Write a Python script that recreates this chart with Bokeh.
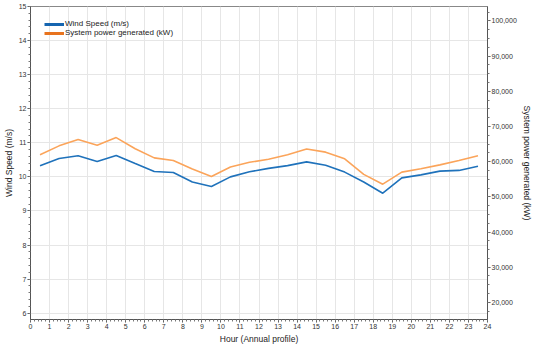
from bokeh.plotting import figure
from bokeh.models import Range1d, LinearAxis, Legend, LegendItem, NumeralTickFormatter, FixedTicker, ColumnDataSource
from bokeh.embed import file_html
from bokeh.resources import INLINE

hours = [0.5, 1.5, 2.5, 3.5, 4.5, 5.5, 6.5, 7.5, 8.5, 9.5, 10.5, 11.5,
         12.5, 13.5, 14.5, 15.5, 16.5, 17.5, 18.5, 19.5, 20.5, 21.5, 22.5, 23.5]
wind_speed = [10.33, 10.54, 10.62, 10.45, 10.63, 10.39, 10.16, 10.13, 9.85, 9.72, 10.00, 10.15,
              10.25, 10.33, 10.44, 10.34, 10.14, 9.85, 9.52, 9.97, 10.06, 10.17, 10.19, 10.31]
power_kw = [61970, 64490, 66300, 64680, 66840, 63680, 61080, 60350, 57900, 55760, 58460, 59810,
            60700, 61970, 63600, 62700, 60810, 56380, 53600, 57030, 58000, 59080, 60350, 61700]
x_ticks = list(range(0, 25))
left_ticks = [6, 7, 8, 9, 10, 11, 12, 13, 14, 15]
right_ticks = [20000, 30000, 40000, 50000, 60000, 70000, 80000, 90000, 100000]

FONT = "Liberation Sans"
BLUE = "#1f72bb"
ORANGE = "#fba45a"

p = figure(width=534, height=346, output_backend="svg", toolbar_location=None,
           x_range=Range1d(0, 24), y_range=Range1d(5.815, 15.0),
           min_border_left=0, min_border_right=0, min_border_top=6, min_border_bottom=0)
p.extra_y_ranges = {"power": Range1d(15135, 104100)}

src = ColumnDataSource(dict(h=hours, w=wind_speed, pw=power_kw))
p.line("h", "w", source=src, line_color=BLUE, line_width=1.6)
p.line("h", "pw", source=src, line_color=ORANGE, line_width=1.6, y_range_name="power")

# legend-only renderers (nothing drawn in the plot)
nan_src = ColumnDataSource(dict(x=[float("nan")], y=[float("nan")]))
leg_w = p.line("x", "y", source=nan_src, line_color="#1565b0", line_width=3)
leg_p = p.line("x", "y", source=nan_src, line_color="#e8731e", line_width=3)
legend = Legend(items=[LegendItem(label="Wind Speed (m/s)", renderers=[leg_w]),
                       LegendItem(label="System power generated (kW)", renderers=[leg_p])],
                location=(14, 282), margin=0, padding=0, spacing=0,
                glyph_width=20, glyph_height=8, label_height=8, label_standoff=1,
                label_text_font=FONT, label_text_font_size="8px", label_text_color="#222222",
                background_fill_alpha=0, border_line_alpha=0)
p.add_layout(legend)

right_axis = LinearAxis(y_range_name="power", axis_label="System power generated (kW)")
p.add_layout(right_axis, "right")

p.xaxis.axis_label = "Hour (Annual profile)"
p.yaxis[0].axis_label = "Wind Speed (m/s)"

p.xaxis.ticker = FixedTicker(ticks=x_ticks, minor_ticks=[i / 5 for i in range(0, 121)])
p.yaxis[0].ticker = FixedTicker(ticks=left_ticks, minor_ticks=[5.8 + i * 0.2 for i in range(0, 47)])
right_axis.ticker = FixedTicker(ticks=right_ticks, minor_ticks=[15000 + i * 2500 for i in range(0, 37)])
right_axis.formatter = NumeralTickFormatter(format="0,0")

for ax in p.xaxis + p.yaxis:
    ax.axis_label_text_font = FONT
    ax.axis_label_text_font_size = "8.5px"
    ax.axis_label_text_font_style = "normal"
    ax.axis_label_text_color = "#222222"
    ax.major_label_text_font = FONT
    ax.major_label_text_font_size = "7px"
    ax.major_label_text_color = "#333333"
    ax.axis_line_color = "#555555"
    ax.major_tick_line_color = "#555555"
    ax.minor_tick_line_color = "#777777"
    ax.major_tick_out = 3
    ax.major_tick_in = 0
    ax.minor_tick_out = 2
    ax.minor_tick_in = 0
    ax.major_label_standoff = 1
    ax.axis_label_standoff = 2

p.xgrid.ticker = FixedTicker(ticks=x_ticks)
p.ygrid.ticker = FixedTicker(ticks=left_ticks)
p.grid.grid_line_color = "#e6e6e6"
p.grid.grid_line_width = 1
p.outline_line_color = "#888888"
p.background_fill_color = "white"

open("out.html", "w").write(file_html(p, INLINE))
